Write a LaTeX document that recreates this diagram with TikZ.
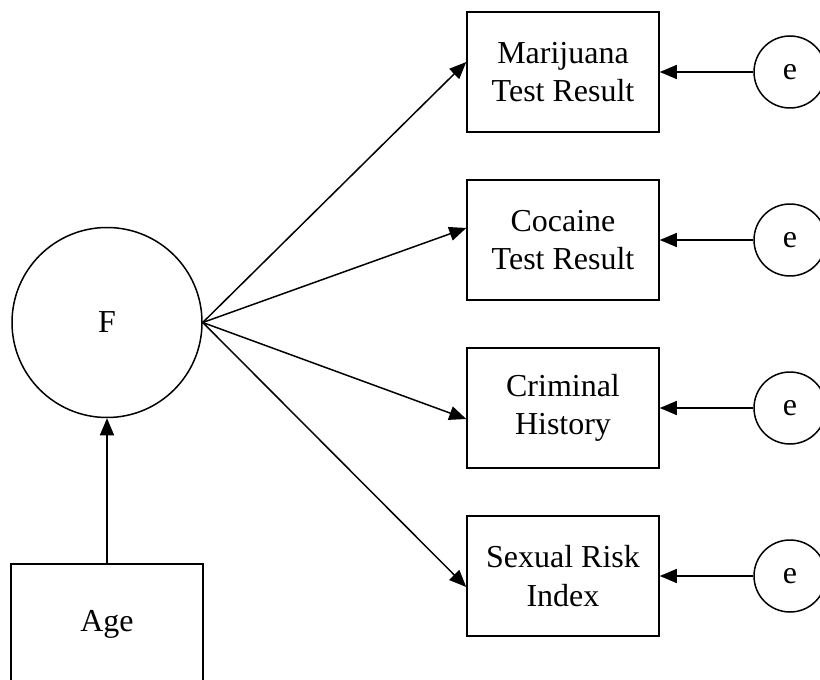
\documentclass[tikz,border=0pt]{standalone}
\usepackage{fontspec}
\setmainfont{Liberation Serif}
\usetikzlibrary{arrows.meta}

\begin{document}
\begin{tikzpicture}[
    line width=0.85pt,
    indicator/.style={draw, line width=0.85pt, minimum width=3.84cm, minimum height=2.4cm, align=center, font=\fontsize{18.2}{21.8}\selectfont},
    latent/.style={draw, circle, line width=0.85pt, minimum size=3.8cm, font=\fontsize{18.2}{21.8}\selectfont},
    errterm/.style={draw, circle, line width=0.85pt, minimum size=1.44cm, inner sep=0pt, font=\fontsize{18.2}{21.8}\selectfont},
    path/.style={-{Triangle[length=0.34cm,width=0.28cm]}}
]
\useasboundingbox (0,0) rectangle (16.4,-13.6);

% Factor and covariate
\node[latent] (F) at (2.14,-6.45) {F};
\node[indicator] (age) at (2.14,-12.48) {Age};

% Indicators
\node[indicator] (mar) at (11.26,-1.44) {Marijuana\\Test Result};
\node[indicator] (coc) at (11.26,-4.80) {Cocaine\\Test Result};
\node[indicator] (crim) at (11.26,-8.16) {Criminal\\History};
\node[indicator] (sex) at (11.26,-11.52) {Sexual Risk\\Index};

% Error terms
\node[errterm] (emar) at (15.8,-1.44) {e};
\node[errterm] (ecoc) at (15.8,-4.80) {e};
\node[errterm] (ecrim) at (15.8,-8.16) {e};
\node[errterm] (esex) at (15.8,-11.52) {e};

% Paths
\draw[path] (age) -- (F);
\draw[path] (F.east) -- ([yshift=0.2cm]mar.west);
\draw[path] (F.east) -- ([yshift=0.24cm]coc.west);
\draw[path] (F.east) -- ([yshift=-0.22cm]crim.west);
\draw[path] (F.east) -- ([yshift=-0.22cm]sex.west);

\foreach \v in {mar,coc,crim,sex}
    \draw[path] (e\v) -- (\v);

\end{tikzpicture}
\end{document}
